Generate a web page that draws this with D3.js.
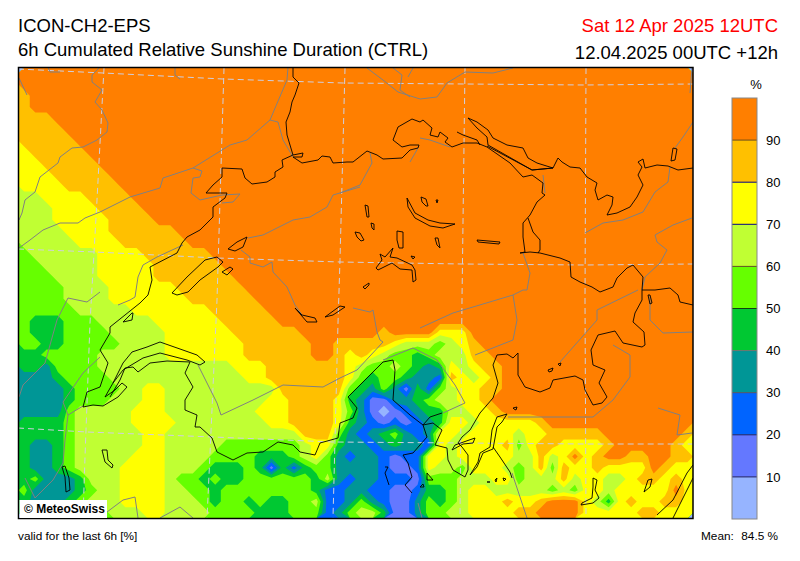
<!DOCTYPE html>
<html>
<head>
<meta charset="utf-8">
<title>ICON-CH2-EPS</title>
<script src="https://d3js.org/d3.v7.min.js"></script>
<style>
    body { margin: 0; background: #fff; }
    text { font-family: "Liberation Sans", Arial, sans-serif; }
</style>
</head>
<body>
<div id="chart"></div>
<script>
// band limits and colours of the sunshine scale (%)
const bandLimits = [10, 20, 30, 40, 50, 60, 70, 80, 90];
const bandColors = ['#96b4ff', '#6478ff', '#0064ff', '#009696', '#00c832', '#66ff00', '#c0ff33', '#ffff00', '#ffc000', '#ff7f00'];
const bandLineColors = ['#202060', '#202060', '#505060', '#707070', '#104010', '#605020', '#000080', '#000080', '#705010'];

// sunshine field, one digit per grid cell = tens of percent (9 -> 95 %)
// spaces are only there to keep the long rows readable
const sunshineRows = [
    '999999999999999999999999999999999999999999999999999999999999',
    '999999999999999999999999999999999999999999999999999999999999',
    '899999999999999999999999999999999999999999999999999999999999',
    '899999999999999999999999999999999999999999999999999999999999',
    '888999999999999999999999999999999999999999999999999999999999',
    '888899999999999999999999999999999999999999999999999999999999',
    '888889999999999999999999999999999999999999999999999999999999',
    '788888999999999999999999999999999999999999999999999999999999',
    '778888899999999999999999999999999999999999999999999999999999',
    '777888889999999999999999999999999999999999999999999999999999',
    '777788888999999999999999999999999999999999999999999999999999',
    '667777888899999999999999999999999999999999999999999999999999',
    '666777788889999999999999999999999999999999999999999999999999',
    '666777778888999999999999999999999999999999999999999999999999',
    '666677778888889999999999999999999999999999999999999999999999',
    '666667777888888999999999999999999999999999999999999999999999',
    '566666677778888889999999999999999999999999999999999999999999',
    '556666677777888888999999999999999999999999999999999999999999',
    '555666677777888888899999999999999999999999999999999999999999',
    '555566667777778888889999999999999999999999999999999999999999',
    '555566667777777888888999999999999999999999999999999999999999',
    '555556666677777778888899999999999999999999999999999999999999',
    '544455566666777777888889999999999999999999999999999999999999',
    '5444555566666777777888888 9999999 8 9999 777 99999999999999999999',
    '5544555556666777777788888899 8888876665678 9999999999999999999',
    '4455555666666777777788888899 87876554566688 999999999999999999',
    '4435555666666666666777888888 876556543476788 99999999999999999',
    '3334555566666666666677888888 875455433287678 99999999999999999',
    '3333455556677666666666688888 854353142567788 99999999999999999',
    '3333455566677666666666778888 743113345667789 99999999999999999',
    '3333566666777666666667778888 753101234466778 99999999999999999',
    '4444566666777766666666778888 7432121234776 77777 8 9999999999999',
    '4444566666677666666666666888 53234532377677 77 6 77 88888 9999999 8',
    '4334566666677666665555555677 43323433276777 7857 88 7777 8 99999 8 7',
    '4334566666777666655554445675 32332122776777 7766867978 99 88 99 88',
    '4334566667777666544454142455 33332112766577 765685877 8 7777 9 8 77',
    '4533346667777655454455555546 32332221555666 775666867766788787',
    '5333345667777665545555555542 23322112445677 666665657767777797',
    '4333456667777666545545445562 23532113545677 787789997647877887',
    '4444444566677666655554445552 35664113556677 778899997777788777'
];
const nCols = 60;
const nRows = sunshineRows.length;

// map lines, in map units of the 675 x 450 frame
const graticule = [
    [[104, 68], [97, 200], [90, 323], [85, 457], [83, 518]],
    [[224, 68], [217, 300], [208, 497], [207, 518]],
    [[345, 68], [340, 260], [338, 323], [333, 518]],
    [[465, 68], [462, 300], [460, 518]],
    [[586, 68], [585, 300], [586, 518]],
    [[18, 69], [103, 73], [223, 79], [343, 83], [465, 84], [585, 85], [693, 84]],
    [[18, 249], [95, 252], [217, 258], [340, 262], [462, 264], [585, 265], [693, 264]],
    [[18, 428], [87, 432], [213, 437], [333, 442], [462, 443], [585, 444], [693, 444]]
];
const greyLines = [
    [[48, 67], [50, 72], [60, 72]],
    [[19, 78], [27, 95]],
    [[100, 67], [92, 75], [92, 82], [102, 90], [95, 102], [102, 110], [108, 123], [107, 132], [97, 140], [83, 147], [72, 148], [60, 157], [58, 163], [40, 177], [35, 192], [25, 200], [22, 213], [19, 220]],
    [[175, 67], [175, 75], [180, 79]],
    [[288, 67], [287, 80], [270, 120], [278, 122], [283, 140], [293, 157]],
    [[270, 120], [247, 140], [230, 145], [193, 168], [172, 175], [163, 178], [160, 188], [130, 197], [100, 212], [85, 218], [78, 223], [60, 223], [43, 230], [30, 240], [19, 248]],
    [[193, 168], [202, 171], [200, 177], [193, 178], [191, 193], [200, 200], [222, 195], [240, 194], [233, 202], [222, 203]],
    [[360, 187], [333, 195], [327, 207], [310, 217], [293, 220], [277, 228], [263, 235], [248, 238]],
    [[241, 250], [250, 257], [250, 263], [263, 267], [272, 262], [273, 272], [287, 287], [295, 305], [302, 315]],
    [[183, 245], [157, 257], [143, 265], [138, 277], [135, 297], [130, 300], [118, 305]],
    [[100, 292], [87, 302], [68, 298], [57, 320], [50, 345], [45, 363], [23, 385], [19, 397]],
    [[100, 357], [83, 373], [63, 402], [68, 415], [65, 440], [63, 463], [53, 480], [35, 498], [25, 478]],
    [[68, 415], [83, 406]],
    [[198, 365], [217, 403], [221, 415], [253, 400], [283, 385], [323, 387], [340, 378], [357, 370], [383, 342]],
    [[383, 360], [413, 348], [437, 360], [455, 385], [465, 403], [443, 413]],
    [[353, 308], [370, 312], [373, 310], [377, 332], [380, 340], [383, 342]],
    [[420, 328], [453, 313], [513, 295], [523, 290], [527, 290], [530, 273], [523, 253]],
    [[513, 295], [517, 320], [513, 340], [475, 355]],
    [[638, 290], [597, 310], [597, 320], [560, 362]],
    [[650, 297], [650, 320], [663, 333], [693, 332]],
    [[613, 345], [630, 355], [630, 377], [613, 400], [593, 417], [540, 417], [508, 417]],
    [[658, 408], [680, 415], [677, 435], [692, 433]],
    [[512, 473], [527, 518]],
    [[107, 512], [123, 500], [135, 497], [138, 518]],
    [[160, 518], [180, 507], [193, 518]],
    [[418, 503], [422, 518]],
    [[367, 68], [383, 80], [398, 92], [420, 99], [437, 97], [447, 83], [465, 72], [493, 73], [513, 68]],
    [[393, 68], [402, 75], [400, 90], [410, 97]],
    [[413, 68], [408, 77]],
    [[340, 193], [360, 185], [372, 163], [370, 153]],
    [[420, 138], [430, 140], [450, 147]],
    [[410, 162], [418, 148]],
    [[543, 175], [545, 193]],
    [[585, 233], [603, 223], [623, 220], [643, 212], [655, 192], [668, 182], [670, 167]],
    [[692, 218], [673, 225], [655, 235], [657, 242], [667, 250], [660, 263], [645, 277], [642, 290]],
    [[693, 122], [683, 137], [675, 148]],
    [[692, 68], [690, 93]]
];
const blackLines = [
    // Rhine to Basel, then north border
    [[293, 68], [293, 77], [299, 83], [295, 95], [292, 102], [290, 112], [286, 122], [287, 135], [290, 145], [293, 155], [303, 153], [302, 157], [293, 157], [302, 163], [318, 160], [322, 156], [330, 157], [333, 163], [347, 162], [353, 162], [367, 151], [377, 155], [383, 159], [402, 158], [410, 150], [418, 148], [419, 145], [410, 145], [402, 147], [393, 140], [398, 127], [412, 119], [420, 122], [423, 120], [432, 128], [430, 135], [438, 137], [440, 132], [448, 138], [445, 142], [452, 147], [463, 143], [477, 143], [487, 147], [510, 163], [523, 177], [532, 175], [543, 183], [542, 193], [545, 195], [537, 202], [530, 215], [523, 223], [523, 237], [525, 252], [520, 253], [530, 252], [540, 253], [560, 258], [570, 262], [571, 277], [580, 282], [592, 287], [600, 292], [613, 287], [617, 278], [627, 268], [633, 265], [643, 277], [642, 290], [642, 300], [635, 313], [633, 322], [644, 332], [645, 345], [642, 347], [623, 343], [615, 331], [598, 335], [591, 350], [593, 365], [605, 370], [599, 383], [607, 397], [602, 403], [593, 405], [585, 390], [583, 380], [575, 376], [553, 380], [550, 388], [540, 392], [525, 387], [518, 375], [518, 353], [513, 358], [507, 354], [497, 355], [493, 365], [498, 383], [493, 398], [480, 413], [470, 430], [462, 437], [458, 443], [462, 447], [468, 455], [468, 470], [465, 477], [453, 470], [448, 460], [447, 448], [435, 445], [442, 430], [433, 423], [423, 425], [410, 415], [393, 400], [395, 370], [393, 360], [383, 362], [373, 372], [360, 385], [348, 397], [357, 408], [353, 418], [340, 423], [338, 438], [320, 443], [315, 455], [300, 452], [293, 445], [278, 442], [263, 452], [247, 453], [233, 460], [217, 452], [212, 438], [200, 427], [195, 427], [197, 415], [185, 410], [185, 400], [193, 387], [185, 373], [190, 362]],
    // west border
    [[293, 155], [282, 160], [283, 167], [275, 172], [275, 177], [267, 182], [252, 184], [245, 178], [242, 169], [222, 168], [222, 177], [213, 185], [206, 193], [227, 193], [225, 198], [213, 207], [213, 217], [200, 230], [187, 237], [182, 243], [177, 253], [150, 267], [152, 280], [148, 295], [140, 303], [110, 327], [110, 333], [100, 350], [108, 363], [100, 387], [87, 392], [83, 407]],
    [[528, 218], [533, 232], [540, 240], [540, 250], [538, 253]],
    [[553, 168], [558, 158], [562, 162], [570, 167], [580, 168], [587, 177], [597, 183], [595, 190], [598, 200], [607, 195], [613, 197], [612, 205], [607, 215], [617, 213], [630, 207], [637, 197], [643, 185], [638, 175], [642, 167], [638, 162], [643, 159], [645, 168], [657, 165], [668, 166], [678, 170], [693, 168]],
    [[642, 290], [655, 290], [670, 288], [678, 295], [680, 302], [693, 305]],
    [[487, 146], [532, 170], [553, 168]],
    [[457, 132], [463, 135], [477, 140], [480, 145]],
    [[83, 407], [93, 405], [103, 406], [118, 397], [127, 387], [122, 383], [115, 390], [105, 397], [113, 383], [123, 363], [132, 352], [147, 347], [160, 342], [180, 349], [197, 355], [205, 362], [200, 365], [187, 360], [160, 353], [143, 358], [123, 370], [113, 383]],
    [[110, 397], [120, 380], [125, 368], [133, 367], [138, 372], [150, 363], [167, 361], [190, 362]],
    [[493, 447], [500, 457], [510, 472], [512, 478]],
    [[442, 413], [430, 417], [423, 425], [427, 437], [413, 453], [403, 455], [408, 463], [412, 477], [405, 485], [412, 493]],
    [[693, 465], [687, 473], [673, 500], [657, 515]],
    [[693, 478], [682, 500], [673, 518]],
    [[385, 467], [388, 467], [385, 473], [389, 485]]
];
const lakes = [
    [[172, 293], [187, 277], [205, 260], [217, 257], [223, 262], [218, 267], [200, 280], [188, 292], [177, 295]],
    [[228, 249], [237, 242], [247, 237], [243, 247], [235, 251]],
    [[222, 272], [230, 267], [233, 269], [227, 275]],
    [[123, 322], [132, 313], [133, 313], [132, 320]],
    [[295, 308], [307, 322], [317, 322], [315, 318], [302, 315]],
    [[325, 317], [340, 306], [345, 307], [333, 315]],
    [[102, 450], [107, 450], [108, 460], [113, 465], [112, 468], [105, 462]],
    [[62, 467], [65, 466], [69, 478], [70, 490], [66, 492], [65, 477]],
    [[365, 205], [368, 206], [369, 217], [367, 217]],
    [[371, 223], [374, 224], [374, 230], [372, 228]],
    [[355, 232], [360, 233], [364, 240], [361, 241], [357, 237]],
    [[407, 198], [415, 213], [428, 220], [440, 223], [455, 224], [443, 228], [430, 226], [415, 218], [408, 207]],
    [[421, 197], [426, 199], [428, 206], [426, 206], [422, 202]],
    [[436, 200], [438, 200], [437, 203]],
    [[397, 231], [403, 232], [403, 248], [399, 248], [397, 240]],
    [[435, 238], [438, 238], [440, 248], [437, 245]],
    [[477, 240], [500, 242], [499, 244], [478, 242]],
    [[393, 248], [390, 257], [397, 258], [412, 265], [415, 270], [416, 280], [413, 282], [412, 270], [400, 269], [392, 263], [378, 270], [376, 268], [382, 260], [380, 254], [385, 257]],
    [[411, 256], [415, 257], [413, 259]],
    [[363, 287], [369, 283], [369, 285], [365, 289]],
    [[468, 118], [477, 122], [488, 130], [493, 138], [507, 145], [523, 148], [528, 158], [537, 163], [553, 168], [532, 170], [488, 145], [487, 137], [477, 128]],
    [[673, 148], [677, 149], [675, 160], [671, 161]],
    [[648, 295], [650, 295], [652, 303], [650, 304]],
    [[455, 445], [475, 438], [473, 443], [463, 444], [452, 450]],
    [[507, 414], [497, 417], [492, 430], [490, 447], [480, 453], [478, 462], [470, 475], [477, 467], [483, 453], [493, 449], [497, 427], [502, 422]],
    [[593, 478], [597, 480], [595, 490], [599, 498], [593, 503], [581, 505], [582, 503], [592, 498], [593, 487]],
    [[648, 480], [652, 479], [650, 487], [644, 492]],
    [[548, 370], [553, 368], [552, 371], [549, 372]],
    [[558, 364], [561, 363], [560, 366]],
    [[513, 408], [517, 407], [516, 410], [514, 409]],
    [[427, 473], [433, 480], [427, 480]],
    [[420, 487], [423, 484], [424, 487]],
    [[495, 480], [497, 478], [496, 482]],
    [[503, 478], [506, 479], [504, 481]],
    [[487, 482], [490, 482]]
];

const svgWidth = 800;
const svgHeight = 561;
const frame = { left: 18.5, right: 693, top: 67.5, bottom: 518.5 };
const legendBox = { left: 732, right: 757, top: 98, bottom: 519 };

const svg = d3.select('#chart')
    .append('svg')
    .attr('width', svgWidth)
    .attr('height', svgHeight)
    .style('display', 'block');

svg.append('clipPath')
    .attr('id', 'frameClip')
    .append('rect')
    .attr('x', frame.left)
    .attr('y', frame.top)
    .attr('width', frame.right - frame.left)
    .attr('height', frame.bottom - frame.top);

const mapGroup = svg.append('g').attr('clip-path', 'url(#frameClip)');

// Filled contours of the field
const gridX = d3.scaleLinear().domain([0, nCols]).range([frame.left, frame.right]);
const gridY = d3.scaleLinear().domain([0, nRows]).range([frame.top, frame.bottom]);
const gridPath = d3.geoPath(d3.geoTransform({
    point(x, y) { this.stream.point(gridX(x), gridY(y)); }
}));

const cellValues = [];
sunshineRows.forEach(row => {
    row.replace(/ /g, '').split('').forEach(digit => cellValues.push(+digit * 10 + 5));
});

const bandColor = d3.scaleThreshold().domain(bandLimits).range(bandColors);

mapGroup.append('rect')
    .attr('x', frame.left)
    .attr('y', frame.top)
    .attr('width', frame.right - frame.left)
    .attr('height', frame.bottom - frame.top)
    .attr('fill', bandColors[0]);

const contours = d3.contours()
    .size([nCols, nRows])
    .thresholds(bandLimits)(cellValues);

mapGroup.selectAll('path.band')
    .data(contours)
    .enter()
    .append('path')
    .attr('class', 'band')
    .attr('d', gridPath)
    .attr('fill', d => bandColor(d.value));

// Map lines
const mapX = d3.scaleLinear().domain([18, 693]).range([18, 693]);
const mapY = d3.scaleLinear().domain([68, 518]).range([68, 518]);
const openLine = d3.line().x(d => mapX(d[0])).y(d => mapY(d[1]));
const closedLine = d3.line().x(d => mapX(d[0])).y(d => mapY(d[1])).curve(d3.curveLinearClosed);

mapGroup.selectAll('path.graticule')
    .data(graticule)
    .enter()
    .append('path')
    .attr('class', 'graticule')
    .attr('d', openLine)
    .attr('fill', 'none')
    .attr('stroke', '#cfcfdf')
    .attr('stroke-width', 1)
    .attr('stroke-dasharray', '6,4');

mapGroup.selectAll('path.grey')
    .data(greyLines)
    .enter()
    .append('path')
    .attr('class', 'grey')
    .attr('d', openLine)
    .attr('fill', 'none')
    .attr('stroke', '#808080')
    .attr('stroke-width', 1);

mapGroup.selectAll('path.black')
    .data(blackLines)
    .enter()
    .append('path')
    .attr('class', 'black')
    .attr('d', openLine)
    .attr('fill', 'none')
    .attr('stroke', '#000')
    .attr('stroke-width', 0.9);

mapGroup.selectAll('path.lake')
    .data(lakes)
    .enter()
    .append('path')
    .attr('class', 'lake')
    .attr('d', closedLine)
    .attr('fill', 'none')
    .attr('stroke', '#000')
    .attr('stroke-width', 0.9);

// Frame and copyright box
svg.append('rect')
    .attr('x', frame.left)
    .attr('y', frame.top)
    .attr('width', frame.right - frame.left)
    .attr('height', frame.bottom - frame.top)
    .attr('fill', 'none')
    .attr('stroke', '#000')
    .attr('stroke-width', 1.5);

svg.append('rect')
    .attr('x', 19.5)
    .attr('y', 500)
    .attr('width', 87.5)
    .attr('height', 18)
    .attr('fill', '#fff');

svg.append('text')
    .attr('x', 24)
    .attr('y', 513)
    .attr('font-size', 12)
    .attr('font-weight', 'bold')
    .text('© MeteoSwiss');

// Titles
const titles = [
    { text: 'ICON-CH2-EPS', x: 18, y: 32, anchor: 'start', color: '#000' },
    { text: '6h Cumulated Relative Sunshine Duration (CTRL)', x: 18, y: 55.5, anchor: 'start', color: '#000' },
    { text: 'Sat 12 Apr 2025 12UTC', x: 778, y: 32, anchor: 'end', color: '#ff0000' },
    { text: '12.04.2025 00UTC +12h', x: 778, y: 58.5, anchor: 'end', color: '#000' }
];

svg.selectAll('text.title')
    .data(titles)
    .enter()
    .append('text')
    .attr('class', 'title')
    .attr('x', d => d.x)
    .attr('y', d => d.y)
    .attr('text-anchor', d => d.anchor)
    .attr('fill', d => d.color)
    .attr('font-size', 18.5)
    .text(d => d.text);

const footers = [
    { text: 'valid for the last 6h [%]', x: 18, anchor: 'start' },
    { text: 'Mean:', x: 701, anchor: 'start' },
    { text: '84.5 %', x: 778, anchor: 'end' }
];

svg.selectAll('text.footer')
    .data(footers)
    .enter()
    .append('text')
    .attr('class', 'footer')
    .attr('x', d => d.x)
    .attr('y', 540)
    .attr('text-anchor', d => d.anchor)
    .attr('font-size', 11.8)
    .text(d => d.text);

// Colour legend
const legendY = d3.scaleLinear().domain([0, 100]).range([legendBox.bottom, legendBox.top]);
const legendEdges = [0].concat(bandLimits, [100]);

svg.selectAll('rect.legendBand')
    .data(bandColors)
    .enter()
    .append('rect')
    .attr('class', 'legendBand')
    .attr('x', legendBox.left)
    .attr('width', legendBox.right - legendBox.left)
    .attr('y', (d, i) => legendY(legendEdges[i + 1]))
    .attr('height', (d, i) => legendY(legendEdges[i]) - legendY(legendEdges[i + 1]))
    .attr('fill', d => d);

svg.selectAll('line.legendLine')
    .data(bandLimits)
    .enter()
    .append('line')
    .attr('class', 'legendLine')
    .attr('x1', legendBox.left)
    .attr('x2', legendBox.right)
    .attr('y1', d => legendY(d))
    .attr('y2', d => legendY(d))
    .attr('stroke', (d, i) => bandLineColors[i]);

svg.append('rect')
    .attr('x', legendBox.left)
    .attr('y', legendBox.top)
    .attr('width', legendBox.right - legendBox.left)
    .attr('height', legendBox.bottom - legendBox.top)
    .attr('fill', 'none')
    .attr('stroke', '#888');

const legendAxis = d3.axisRight(legendY)
    .tickValues(bandLimits)
    .tickSize(0)
    .tickPadding(9);

const legendAxisGroup = svg.append('g')
    .attr('transform', `translate(${legendBox.right}, 0)`)
    .call(legendAxis);

legendAxisGroup.select('.domain').remove();
legendAxisGroup.selectAll('text')
    .attr('font-size', 13)
    .style('font-family', '"Liberation Sans", Arial, sans-serif');

svg.append('text')
    .attr('x', 756)
    .attr('y', 89)
    .attr('text-anchor', 'middle')
    .attr('font-size', 13)
    .text('%');
</script>
</body>
</html>
